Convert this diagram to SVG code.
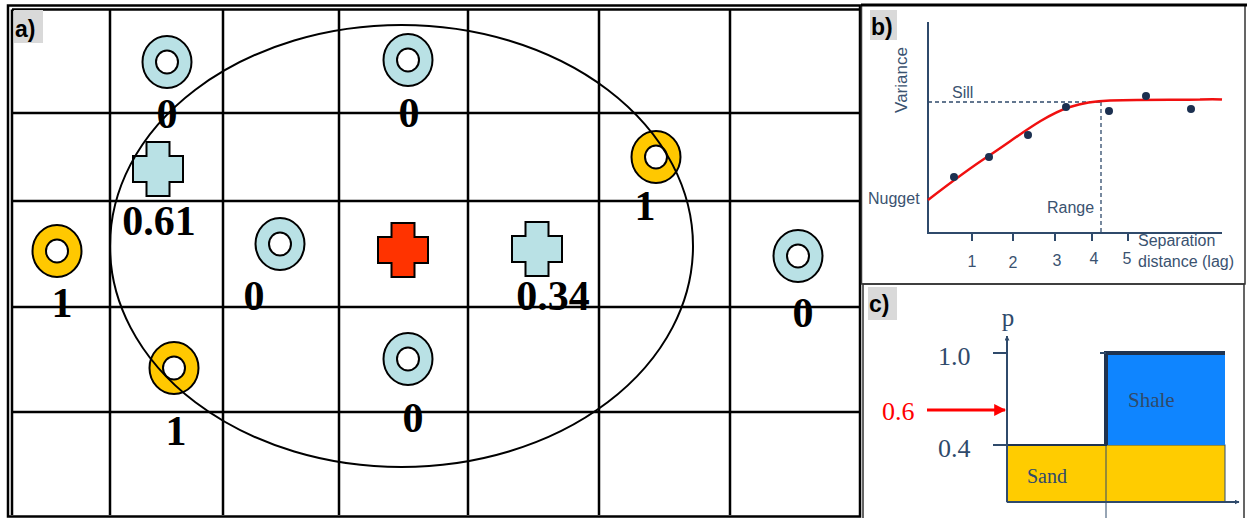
<svg xmlns="http://www.w3.org/2000/svg" xmlns:xlink="http://www.w3.org/1999/xlink" width="1247" height="518" viewBox="0 0 1247 518">
<style>
.grid line{stroke:#000;stroke-width:2.5}
.frame{fill:none;stroke:#000;stroke-width:2.5}
.val{font-family:"Liberation Serif",serif;font-weight:bold;font-size:42px;fill:#000;text-anchor:middle}
.tag{font-family:"Liberation Sans",sans-serif;font-weight:bold;font-size:23px;fill:#000}
.tagbg{fill:#d9d9d9}
.blue{fill:#b9e1e5}
.yellow{fill:#ffc800}
.red{fill:#ff3300}
.ax{stroke:#2f4a6b;stroke-width:2;fill:none}
.bt{font-family:"Liberation Sans",sans-serif;font-size:16px;fill:#3a5270}
.ct{font-family:"Liberation Serif",serif;fill:#2f4a6b}
.dot{fill:#1c3050}
</style>
<defs>
<g id="ring">
<ellipse cx="0" cy="0" rx="24.5" ry="26" stroke="#000" stroke-width="2"/>
<ellipse cx="0" cy="0" rx="11" ry="11.5" fill="#fff" stroke="#000" stroke-width="2"/>
</g>
<path id="cross" d="M-11.5,-27 h23 v14 h13.5 v26 h-13.5 v14 h-23 v-14 h-13.5 v-26 h13.5 z" stroke="#000" stroke-width="2"/>
<marker id="arr" viewBox="0 0 10 10" refX="9" refY="5" markerWidth="5" markerHeight="5" orient="auto" markerUnits="userSpaceOnUse">
<path d="M0,0 L10,5 L0,10 z" fill="#2f4a6b"/>
</marker>
<marker id="arrRed" viewBox="0 0 10 10" refX="9" refY="5" markerWidth="4" markerHeight="4" orient="auto">
<path d="M0,0 L10,5 L0,10 z" fill="#ff0000"/>
</marker>
</defs>
<rect width="1247" height="518" fill="#fff"/>

<!-- Panel a -->
<g id="panel-a">
<rect class="frame" x="8" y="5.5" width="852" height="511"/>
<g class="grid">
<line x1="12" y1="9.5" x2="12" y2="515"/>
<line x1="110" y1="9.5" x2="110" y2="515"/>
<line x1="223" y1="9.5" x2="223" y2="515"/>
<line x1="339" y1="9.5" x2="339" y2="515"/>
<line x1="468" y1="9.5" x2="468" y2="515"/>
<line x1="599" y1="9.5" x2="599" y2="515"/>
<line x1="730" y1="9.5" x2="730" y2="515"/>
<line x1="12" y1="9.5" x2="859" y2="9.5"/>
<line x1="12" y1="113" x2="859" y2="113"/>
<line x1="12" y1="201" x2="859" y2="201"/>
<line x1="12" y1="307" x2="859" y2="307"/>
<line x1="12" y1="412" x2="859" y2="412"/>
</g>
<rect class="tagbg" x="14" y="10" width="29" height="33"/>
<text class="tag" x="15" y="37">a)</text>
</g>

<g id="ring-blue-1"><use xlink:href="#ring" x="167" y="62" class="blue"/><text class="val" x="167" y="128">0</text></g>
<g id="ring-blue-2"><use xlink:href="#ring" x="408" y="60" class="blue"/><text class="val" x="409" y="127">0</text></g>
<g id="ring-yellow-1"><use xlink:href="#ring" x="656" y="157" class="yellow"/><text class="val" x="645" y="220">1</text></g>
<g id="cross-blue-1"><use xlink:href="#cross" x="158" y="169" class="blue"/><text class="val" x="159" y="235">0.61</text></g>
<g id="ring-yellow-2"><use xlink:href="#ring" x="57" y="251" class="yellow"/><text class="val" x="62" y="317">1</text></g>
<g id="ring-blue-3"><use xlink:href="#ring" x="280" y="244" class="blue"/><text class="val" x="254" y="310">0</text></g>
<g id="cross-red"><use xlink:href="#cross" x="403" y="250" class="red"/></g>
<g id="cross-blue-2"><use xlink:href="#cross" x="537" y="249" class="blue"/><text class="val" x="553" y="310">0.34</text></g>
<g id="ring-blue-4"><use xlink:href="#ring" x="798" y="256" class="blue"/><text class="val" x="803" y="327">0</text></g>
<g id="ring-yellow-3"><use xlink:href="#ring" x="174" y="368" class="yellow"/><text class="val" x="176" y="445">1</text></g>
<g id="ring-blue-5"><use xlink:href="#ring" x="408" y="359" class="blue"/><text class="val" x="413" y="432">0</text></g>

<g id="search-ellipse">
<ellipse cx="401.5" cy="246" rx="291.5" ry="221" fill="none" stroke="#000" stroke-width="2"/>
</g>

<!-- Panel b -->
<g id="panel-b">
<rect x="861.5" y="5" width="383.5" height="279" fill="none" stroke="#333" stroke-width="1.5"/>
<line x1="861" y1="5" x2="1247" y2="5" stroke="#000" stroke-width="3"/>
<rect class="tagbg" x="870" y="10" width="27" height="30"/>
<text class="tag" x="871" y="35">b)</text>
<polyline class="ax" points="928,22 928,233 1222,233"/>
<g class="ax">
<line x1="972" y1="233" x2="972" y2="241"/>
<line x1="1013" y1="233" x2="1013" y2="241"/>
<line x1="1055" y1="233" x2="1055" y2="241"/>
<line x1="1092" y1="233" x2="1092" y2="241"/>
<line x1="1128" y1="233" x2="1128" y2="241"/>
</g>
<line x1="928" y1="102" x2="1101" y2="102" stroke="#2f4a6b" stroke-width="1.3" stroke-dasharray="4,3"/>
<line x1="1101" y1="102" x2="1101" y2="233" stroke="#2f4a6b" stroke-width="1.3" stroke-dasharray="4,3"/>
<path d="M928,200 C950,183 970,168 990,155 C1020,135 1045,115 1070,107 C1085,102 1095,101 1110,100.5 C1150,99.5 1180,100 1200,99.5 C1210,99 1216,99 1222,99.5" fill="none" stroke="#f01010" stroke-width="2.5"/>
<circle class="dot" cx="954" cy="177" r="4"/>
<circle class="dot" cx="989" cy="157" r="4"/>
<circle class="dot" cx="1028" cy="135" r="4"/>
<circle class="dot" cx="1066" cy="107" r="4"/>
<circle class="dot" cx="1109" cy="111" r="4"/>
<circle class="dot" cx="1146" cy="96" r="4"/>
<circle class="dot" cx="1191" cy="109" r="4"/>
<text class="bt" transform="translate(907,80) rotate(-90)" text-anchor="middle" style="font-size:17px">Variance</text>
<text class="bt" x="952" y="98">Sill</text>
<text class="bt" x="868" y="204">Nugget</text>
<text class="bt" x="1047" y="213">Range</text>
<text class="bt" x="972" y="267" text-anchor="middle">1</text>
<text class="bt" x="1013" y="268" text-anchor="middle">2</text>
<text class="bt" x="1057" y="266" text-anchor="middle">3</text>
<text class="bt" x="1094" y="264" text-anchor="middle">4</text>
<text class="bt" x="1127" y="264" text-anchor="middle">5</text>
<text class="bt" x="1138" y="246">Separation</text>
<text class="bt" x="1138" y="267">distance (lag)</text>
</g>

<!-- Panel c -->
<g id="panel-c">
<rect x="863" y="284" width="381" height="236" fill="none" stroke="#333" stroke-width="1.5"/>
<rect class="tagbg" x="868" y="287" width="29" height="33"/>
<text class="tag" x="869" y="312">c)</text>
</g>
<g id="sand">
<rect x="1007" y="445" width="218" height="57" fill="#ffcc00" stroke="#2f4a6b" stroke-width="1"/>
<text class="ct" x="1027" y="483" font-size="20">Sand</text>
</g>
<g id="shale">
<rect x="1106" y="353" width="119" height="92" fill="#0f85ff"/>
<text class="ct" x="1128" y="407" font-size="21">Shale</text>
</g>
<g id="axes-c">
<line x1="1106" y1="445" x2="1106" y2="518" stroke="#2f4a6b" stroke-width="1"/>
<polyline points="1007,445 1106,445 1106,353 1225,353" fill="none" stroke="#1f3350" stroke-width="2"/>
<polyline points="1106,445 1106,353 1225,353" fill="none" stroke="#1f3350" stroke-width="4"/>
<line x1="1007" y1="502" x2="1007" y2="336" class="ax" stroke-width="1.5" marker-end="url(#arr)"/>
<line x1="1007" y1="502" x2="1239" y2="502" class="ax" stroke-width="1.5" marker-end="url(#arr)"/>
<line x1="993" y1="353" x2="1007" y2="353" class="ax" stroke-width="1.5"/>
<line x1="993" y1="445" x2="1007" y2="445" class="ax" stroke-width="1.5"/>
<line x1="1100" y1="353" x2="1106" y2="353" class="ax" stroke-width="1.5"/>
<text class="ct" x="1008" y="326" font-size="25" text-anchor="middle">p</text>
<text class="ct" x="938" y="365" font-size="26">1.0</text>
<text class="ct" x="938" y="457" font-size="26">0.4</text>
</g>
<g id="arrow-06">
<text class="ct" x="882" y="420" font-size="26" style="fill:#ff0000">0.6</text>
<line x1="927" y1="410" x2="1005" y2="410" stroke="#ff0000" stroke-width="3" marker-end="url(#arrRed)"/>
</g>
</svg>
